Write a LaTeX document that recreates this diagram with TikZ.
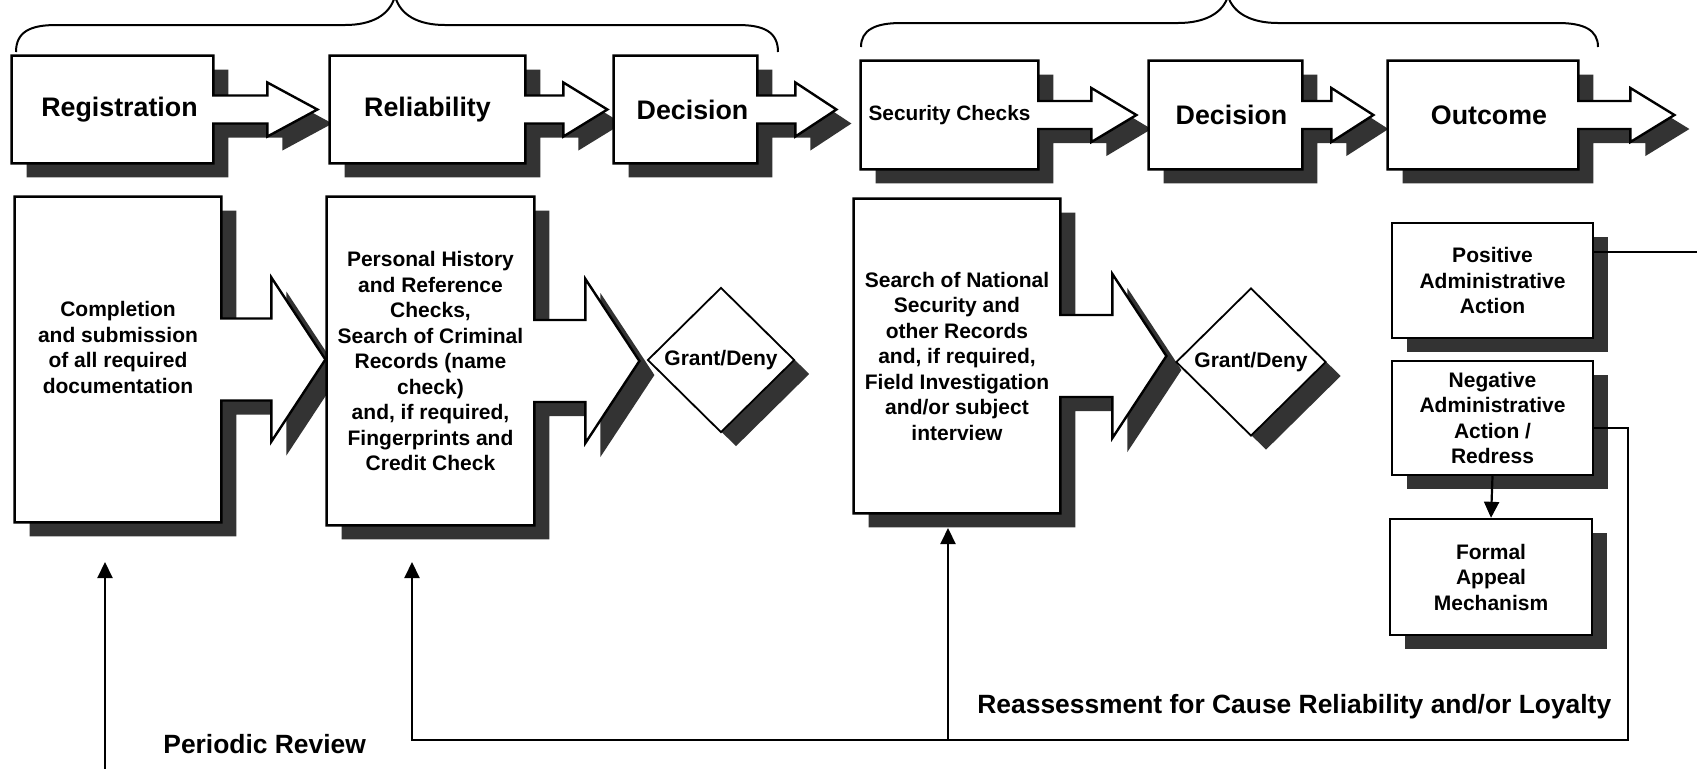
\documentclass[tikz,border=0pt]{standalone}
\usepackage{fontspec}
\setmainfont{Liberation Sans}
\usetikzlibrary{calc,shapes.geometric,shadows,arrows.meta}
\pgfdeclarelayer{bg}
\pgfsetlayers{bg,main}

\tikzset{
  castshadow/.style={drop shadow={shadow xshift=7.5pt,shadow yshift=-7pt,fill=black!80,opacity=1}},
  callout/.style={draw=black,line width=1.2pt,fill=white,line join=miter,castshadow},
  stagetext/.style={inner sep=0pt,align=center,font=\bfseries\fontsize{13.4}{15.5}\selectfont},
  smallstage/.style={stagetext,font=\bfseries\fontsize{10.4}{12}\selectfont},
  steptext/.style={inner sep=0pt,align=center,font=\bfseries\fontsize{10.5}{12.75}\selectfont},
  framed/.style={steptext,draw=black,line width=1.2pt,fill=white,castshadow},
  choice/.style={steptext,diamond,shape aspect=1,draw=black,line width=0.9pt,fill=white,castshadow},
  conn/.style={line width=1.1pt},
  tipped/.style={conn,-{Triangle[length=8pt,width=7.5pt]}},
  bracepen/.style={line width=1pt},
  caption/.style={inner sep=0pt,font=\bfseries\fontsize{13.2}{15}\selectfont}
}

% box with an arrow on its right side:
% #1 node, #2 shaft half height, #3 head half height, #4 shaft length, #5 head length
\newcommand\arrowbox[5]{%
  \begin{pgfonlayer}{bg}
    \draw[callout] (#1.north west) -- (#1.north east)
      -- ($(#1.east)+(0,-#2)$) -- ($(#1.east)+(#4,-#2)$)
      -- ($(#1.east)+(#4,-#3)$) -- ($(#1.east)+(#4+#5,0)$)
      -- ($(#1.east)+(#4,#3)$) -- ($(#1.east)+(#4,#2)$)
      -- ($(#1.east)+(0,#2)$) -- (#1.south east) -- (#1.south west) -- cycle;
  \end{pgfonlayer}}

\begin{document}
\begin{tikzpicture}[x=0.5pt,y=-0.5pt]
\useasboundingbox (0,0) rectangle (1697,768);
\begin{pgfonlayer}{bg}
  \fill[white] (0,0) rectangle (1697,768);
\end{pgfonlayer}

% braces over the two phases
\begin{scope}
  \clip (0,0) rectangle (1697,768);
  \draw[bracepen] (16,52) .. controls (16,32) and (30,25) .. (56,25) -- (345,25)
    .. controls (372,25) and (390,15) .. (395,-4)
    .. controls (400,15) and (418,25) .. (445,25) -- (738,25)
    .. controls (764,25) and (778,32) .. (778,52);
  \draw[bracepen] (861,47) .. controls (861,30) and (875,23) .. (901,23) -- (1178,23)
    .. controls (1205,23) and (1223,13) .. (1228,-4)
    .. controls (1233,13) and (1251,23) .. (1278,23) -- (1558,23)
    .. controls (1584,23) and (1598,30) .. (1598,47);
\end{scope}

% top row of stages
\node[stagetext,minimum width=100.5pt,minimum height=53.5pt] (reg) at (112.5,109.5) {\hspace*{7pt}Registration};
\node[stagetext,minimum width=97.5pt,minimum height=53.5pt] (rel) at (427.5,109.5) {Reliability};
\node[stagetext,minimum width=71.5pt,minimum height=53.5pt] (decA) at (685.5,109.5) {\hspace*{7pt}Decision};
\node[smallstage,minimum width=88.5pt,minimum height=54pt] (sec) at (949.5,115) {Security Checks};
\node[stagetext,minimum width=76.5pt,minimum height=54pt] (decB) at (1225.5,115) {\hspace*{6pt}Decision};
\node[stagetext,minimum width=95pt,minimum height=54pt] (out) at (1483,115) {\hspace*{6pt}Outcome};

\arrowbox{reg}{14}{27}{54}{50}
\arrowbox{rel}{14}{27}{38}{44}
\arrowbox{decA}{14}{27}{38}{41}
\arrowbox{sec}{14}{27}{53}{45}
\arrowbox{decB}{14}{27}{29}{42}
\arrowbox{out}{14}{27}{52}{44}

% lower row of steps
\node[steptext,minimum width=103pt,minimum height=162.5pt,
  label={[steptext,yshift=6pt]center:{Completion\\and submission\\of all required\\documentation}}]
  (comp) at (118,359.5) {};
\node[steptext,minimum width=103.5pt,minimum height=164pt] (pers) at (430.5,361)
  {Personal History\\and Reference\\Checks,\\Search of Criminal\\Records (name\\check)\\and, if required,\\Fingerprints and\\Credit Check};
\node[steptext,minimum width=103pt,minimum height=157pt] (srch) at (957,356)
  {Search of National\\Security and\\other Records\\and, if required,\\Field Investigation\\and/or subject\\interview};

\arrowbox{comp}{41}{82}{50}{54}
\arrowbox{pers}{41}{82}{51}{54}
\arrowbox{srch}{41}{82}{52}{54}

\node[choice,minimum width=73.5pt,minimum height=72.5pt] (gdA) at (721,360) {Grant/Deny};
\node[choice,minimum width=75pt,minimum height=74pt] (gdB) at (1251,362) {Grant/Deny};

\node[framed,minimum width=100.5pt,minimum height=57.5pt] (pos) at (1492.5,280.5)
  {Positive\\Administrative\\Action};
\node[framed,minimum width=100.5pt,minimum height=57pt] (neg) at (1492.5,418)
  {Negative\\Administrative\\Action /\\Redress};
\node[framed,minimum width=101pt,minimum height=58pt] (frm) at (1491,577)
  {Formal\\Appeal\\Mechanism};

% feedback connectors
\coordinate (posout) at (1697,252);
\coordinate (negout) at (1628,428);
\coordinate (loopR) at (1628,740);
\coordinate (loopM) at (948,740);
\coordinate (loopL) at (412,740);
\coordinate (persIn) at (412,562);
\coordinate (srchIn) at (948,528);
\coordinate (perStart) at (105,775);
\coordinate (compIn) at (105,562);

\draw[conn] (pos.east |- posout) -- (posout);
\draw[tipped] (neg.east |- negout) -- (negout) -- (loopR) -- (loopL) -- (persIn);
\draw[tipped] (loopM) -- (srchIn);
\draw[tipped] (perStart) -- (compIn);
\draw[tipped] (neg.south) -- (frm.north);

\node[caption,anchor=base west] (periodic) at (163,753) {Periodic Review};
\node[caption,anchor=base west] (reassess) at (977,713) {Reassessment for Cause Reliability and/or Loyalty};
\end{tikzpicture}
\end{document}
